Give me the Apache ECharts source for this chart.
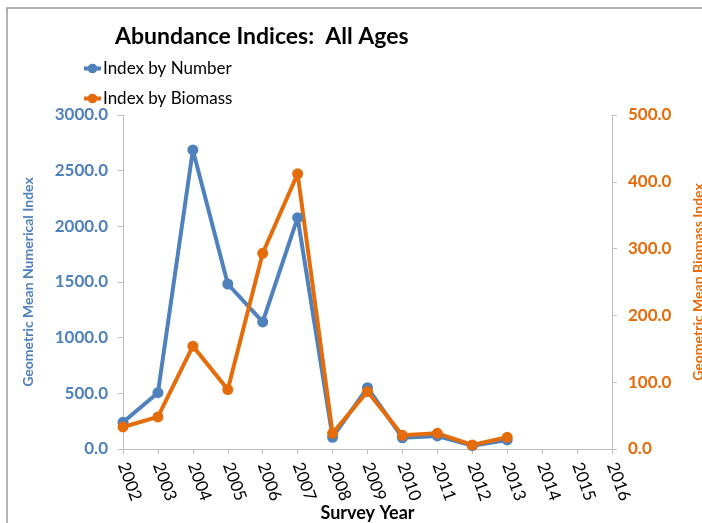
<!DOCTYPE html>
<html>
<head>
<meta charset="utf-8">
<script src="https://cdn.jsdelivr.net/npm/echarts@6/dist/echarts.min.js"></script>
<style>
    html, body { margin: 0; padding: 0; background: #fff; }
    #chart { width: 702px; height: 523px; }
</style>
</head>
<body>
<div id="chart"></div>
<script>
    var years = ['2002', '2003', '2004', '2005', '2006', '2007', '2008', '2009',
                 '2010', '2011', '2012', '2013', '2014', '2015', '2016'];
    var byNumber = [240, 506, 2686, 1482, 1141, 2078, 105, 551, 101, 117, 30, 81];
    var byBiomass = [33, 48, 154, 89, 293, 412, 23.5, 86, 20.5, 23.5, 6, 17.5];

    var blue = '#4F81BD';
    var orange = '#E46C0A';
    var font = 'Lato, "Open Sans", sans-serif';

    var chart = echarts.init(document.getElementById('chart'));
    chart.setOption({
        animation: false,
        textStyle: { fontFamily: font },
        graphic: [{
            type: 'rect',
            shape: { x: 7, y: 8, width: 720, height: 540 },
            style: { fill: 'none', stroke: '#9a9a9a', lineWidth: 1.5 },
            silent: true
        }],
        title: {
            text: 'Abundance Indices:  All Ages',
            left: 110,
            top: 20,
            textStyle: { fontFamily: font, fontSize: 23, fontWeight: 'bold', color: '#000' }
        },
        legend: {
            orient: 'vertical',
            left: 82,
            top: 60,
            padding: 0,
            itemWidth: 17,
            itemHeight: 12,
            itemGap: 13,
            lineStyle: { width: 4 },
            textStyle: { fontFamily: font, fontSize: 17, color: '#000', padding: [0, 0, 0, -3] },
            data: ['Index by Number', 'Index by Biomass']
        },
        grid: { left: 123, right: 90, top: 115, bottom: 74, outerBoundsMode: 'none' },
        xAxis: {
            type: 'category',
            data: years,
            boundaryGap: false,
            name: 'Survey Year',
            nameLocation: 'middle',
            nameGap: 55,
            nameMoveOverlap: false,
            nameTextStyle: { fontFamily: font, fontSize: 18, fontWeight: 'bold', color: '#000' },
            axisLine: { lineStyle: { color: '#bfbfbf', width: 1 } },
            axisTick: { alignWithLabel: true, length: 5, lineStyle: { color: '#bfbfbf' } },
            axisLabel: { rotate: -70, fontSize: 17, color: '#000', margin: 14, interval: 0 }
        },
        yAxis: [{
            type: 'value',
            min: 0,
            max: 3000,
            interval: 500,
            name: 'Geometric Mean Numerical Index',
            nameLocation: 'middle',
            nameGap: 88,
            nameMoveOverlap: false,
            nameRotate: 90,
            nameTextStyle: { fontFamily: font, fontSize: 14, fontWeight: 'bold', color: blue },
            axisLine: { show: true, lineStyle: { color: '#bfbfbf' } },
            axisTick: { show: true, length: 5, lineStyle: { color: '#bfbfbf' } },
            splitLine: { show: false },
            axisLabel: {
                fontSize: 17, fontWeight: 'bold', color: blue, margin: 15,
                formatter: function (v) { return v.toFixed(1); }
            }
        }, {
            type: 'value',
            min: 0,
            max: 500,
            interval: 100,
            position: 'right',
            name: 'Geometric Mean Biomass Index',
            nameLocation: 'middle',
            nameGap: 79,
            nameMoveOverlap: false,
            nameRotate: 90,
            nameTextStyle: { fontFamily: font, fontSize: 14, fontWeight: 'bold', color: orange },
            axisLine: { show: true, lineStyle: { color: '#bfbfbf' } },
            axisTick: { show: true, length: 5, lineStyle: { color: '#bfbfbf' } },
            splitLine: { show: false },
            axisLabel: {
                fontSize: 17, fontWeight: 'bold', color: orange, margin: 16,
                formatter: function (v) { return v.toFixed(1); }
            }
        }],
        series: [{
            name: 'Index by Number',
            type: 'line',
            yAxisIndex: 0,
            data: byNumber,
            symbol: 'circle',
            symbolSize: 11,
            color: blue,
            lineStyle: { width: 4, color: blue },
            itemStyle: { color: blue }
        }, {
            name: 'Index by Biomass',
            type: 'line',
            yAxisIndex: 1,
            data: byBiomass,
            symbol: 'circle',
            symbolSize: 11,
            color: orange,
            lineStyle: { width: 4, color: orange },
            itemStyle: { color: orange }
        }]
    });
</script>
</body>
</html>
